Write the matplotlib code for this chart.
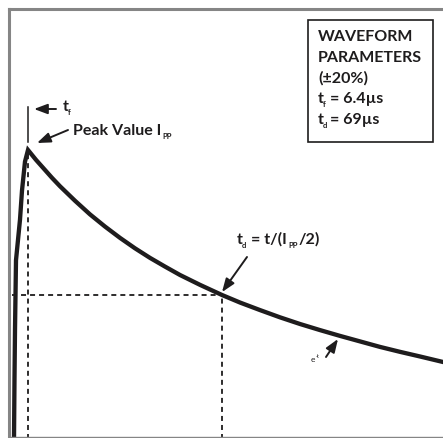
import matplotlib.pyplot as plt
from matplotlib.lines import Line2D
from matplotlib.patches import Rectangle

W, H = 443, 438

# waveform: time (arbitrary units), current relative to I_PP
rise_t = [1, 1.5, 2, 2.5, 3, 5, 7, 9, 12, 15]
rise_i = [0.0, 0.21, 0.38, 0.50, 0.62, 0.69, 0.76, 0.86, 0.96, 1.0]
decay_t = [15, 23, 31, 39, 47, 62, 77, 92, 107, 122, 137, 152, 167, 187, 209,
           227, 247, 267, 287, 307, 327, 347, 367, 387, 407, 430, 442]
decay_i = [1.0, 0.966, 0.935, 0.904, 0.875, 0.825, 0.778, 0.736, 0.697, 0.661,
           0.628, 0.598, 0.569, 0.535, 0.50, 0.474, 0.448, 0.423, 0.400, 0.379,
           0.359, 0.340, 0.321, 0.304, 0.288, 0.269, 0.262]

t_peak = 15
t_half = 209
i_half = 0.5

box_lines = ['WAVEFORM', 'PARAMETERS', '(\u00b120%)']
tf_text = '= 6.4\u00b5s'
td_text = '= 69\u00b5s'

plt.rcParams['font.family'] = ['Lato', 'DejaVu Sans']
plt.rcParams['lines.scale_dashes'] = False

ink = '#1e1c1d'
frame = '#858585'


def fp(x, y):
    # pixel position -> figure fraction
    return (x / W, 1 - y / H)


fig = plt.figure(figsize=(W / 100, H / 100), dpi=100)
ax = fig.add_axes([9 / W, 1 / H, 1 - 9 / W, 428 / H])
ax.set_xlim(-4, 430)
ax.set_ylim(3 / 290, 431 / 290)
ax.set_xticks([])
ax.set_yticks([])
ax.spines['right'].set_visible(False)
for side in ['top', 'left', 'bottom']:
    ax.spines[side].set_color(frame)
ax.spines['top'].set_linewidth(2.2)
ax.spines['left'].set_linewidth(2.2)
ax.spines['bottom'].set_linewidth(1.0)

dash = (0, (3.6, 2.9))
ax.plot([-1, t_half], [i_half, i_half], color=ink, lw=1.3, linestyle=dash)
ax.plot([t_peak, t_peak], [0, 1.0], color=ink, lw=1.3, linestyle=dash)
ax.plot([t_half, t_half], [0, i_half], color=ink, lw=1.3, linestyle=dash)

ax.plot(rise_t + decay_t[1:], rise_i + decay_i[1:], color=ink, lw=3.1,
        solid_joinstyle='miter', solid_capstyle='butt')

# parameter box
x0, y0 = fp(308, 142)
x1, y1 = fp(433, 20)
fig.add_artist(Rectangle((x0, y0), x1 - x0, y1 - y0, transform=fig.transFigure,
                         fill=False, edgecolor=ink, lw=1.2))
bold = dict(fontsize=11.5, fontweight='bold', color=ink, va='baseline')
small = dict(fontsize=5.5, fontweight='bold', color=ink, va='baseline')
for k, s in enumerate(box_lines):
    fig.text(*fp(318, 41 + 20.7 * k), s, **bold)
fig.text(*fp(318, 103), 't', **bold)
fig.text(*fp(323, 107), 'f', **small)
fig.text(*fp(330, 103), tf_text, **bold)
fig.text(*fp(318, 124), 't', **bold)
fig.text(*fp(323, 128), 'd', **small)
fig.text(*fp(330, 124), td_text, **bold)

# t_f marker
fig.add_artist(Line2D([28 / W, 28 / W], [1 - 107 / H, 1 - 142 / H],
                      transform=fig.transFigure, color=ink, lw=1.1))
arrow = dict(arrowstyle='-|>,head_length=0.8,head_width=0.3', color=ink,
             lw=1.4, shrinkA=0, shrinkB=0)
ax.annotate('', xy=fp(34, 109), xycoords='figure fraction',
            xytext=fp(56, 109), textcoords='figure fraction', arrowprops=arrow)
fig.text(*fp(63, 111), 't', **bold)
fig.text(*fp(68, 115), 'f', **small)

# peak value
ax.annotate('', xy=fp(37, 143), xycoords='figure fraction',
            xytext=fp(68, 130), textcoords='figure fraction', arrowprops=arrow)
fig.text(*fp(73, 135), 'Peak Value I', **bold)
fig.text(*fp(162, 139), 'PP', **small)

# half value
ax.annotate('', xy=(t_half, i_half + 0.01), xytext=fp(247, 257),
            textcoords='figure fraction', arrowprops=arrow)
fig.text(*fp(237, 244), 't', **bold)
fig.text(*fp(242, 248), 'd', **small)
fig.text(*fp(251, 244), '= t/(I', **bold)
fig.text(*fp(288, 248), 'PP', **small)
fig.text(*fp(299, 244), '/2)', **bold)

# e^-t
ax.annotate('', xy=fp(338, 339), xycoords='figure fraction',
            xytext=fp(326, 357), textcoords='figure fraction', arrowprops=arrow)
fig.text(*fp(311, 362), 'e', fontsize=6, color=ink, va='baseline')
fig.text(*fp(316, 358), '-t', fontsize=4, color=ink, va='baseline')

fig.savefig('out.png', dpi=100)
